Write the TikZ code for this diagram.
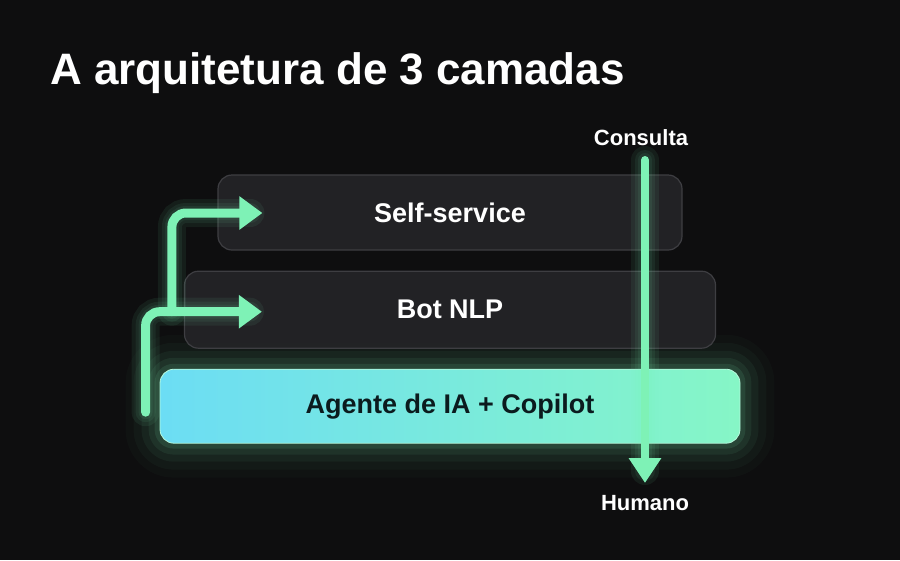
\documentclass[tikz,border=0pt]{standalone}
\usepackage{fontspec}
\setmainfont{Liberation Sans}
\usetikzlibrary{positioning}
\usetikzlibrary{calc}
\usetikzlibrary{arrows.meta}
\usetikzlibrary{backgrounds}

\definecolor{fundo}{HTML}{0E0E0F}
\definecolor{menta}{HTML}{7EF2B6}
\definecolor{caixa}{HTML}{242427}
\definecolor{borda}{HTML}{3E3E42}
\definecolor{ciano}{HTML}{6CDDF4}
\definecolor{verdeclaro}{HTML}{86F6C6}
\definecolor{tinta}{HTML}{0B1B1E}

\begin{document}
\begin{tikzpicture}[x=1pt,y=-1pt,>={Triangle[length=23pt,width=32pt]},
		node distance=20pt]
		\tikzstyle{camada}=[draw=borda,fill=caixa,fill opacity=0.92,text opacity=1,line width=1.2pt,rounded corners=14pt,
		  text=white,font=\fontsize{27}{30}\selectfont\bfseries,inner sep=0pt]
		\tikzstyle{fluxo}=[menta,line width=9pt,rounded corners=14pt,line cap=round]
		\tikzstyle{brilho}=[menta,opacity=0.07,rounded corners=14pt,line cap=round]
		\tikzstyle{rotulo}=[text=white,font=\fontsize{22}{24}\selectfont\bfseries,inner sep=0pt]
		
		\useasboundingbox (0,0) rectangle (900,560);
		
		\node[anchor=base west,text=white,inner sep=0pt,font=\fontsize{44}{50}\selectfont\bfseries] (titulo) at (50,84) {A arquitetura de 3 camadas};
		
		\node[camada,minimum width=464pt,minimum height=75pt] (self) at (450,212.5) {Self-service};
		\node[camada,minimum width=531pt,minimum height=77pt] (bot)  [below=of self]  {Bot NLP};
		\node[camada,minimum width=580pt,minimum height=74pt,left color=ciano,right color=verdeclaro,
		  draw=verdeclaro!60!white,line width=0.8pt,fill opacity=1,text=tinta] (agente) [below=of bot] {Agente de IA + Copilot};
		
		% brilho da camada de agente
		\begin{scope}[on background layer]
		\fill[fundo] (0,0) rectangle (900,560);
		\foreach \g/\o in {34/0.025,26/0.035,18/0.05,11/0.07,5/0.1}
		  \fill[menta,opacity=\o,rounded corners=\g pt+14pt] ($(agente.north west)+(-\g,-\g)$) rectangle ($(agente.south east)+(\g,\g)$);
		\end{scope}
		
		\coordinate (ini)  at ($(agente.west)+(-14,6)$);
		\coordinate (p1)   at ($(bot.west)+(78,2)$);
		\coordinate (p2)   at ($(self.west)+(45,0.5)$);
		\coordinate (ramo) at ($(p1)+(-90,0)$);
		\coordinate (topo) at (645,160);
		\coordinate (base) at (645,483);
		
		\foreach \w in {28,20,14}
		{
		  \draw[brilho,line width=\w pt] (ini) |- ($(p1)+(-12,0)$);
		  \draw[brilho,line width=\w pt] (ramo) |- ($(p2)+(-12,0)$);
		  \draw[brilho,line width=\w pt] (topo) -- ($(base)+(0,-12)$);
		}
		
		\draw[fluxo,->] (ini) |- (p1);
		\draw[fluxo,->] (ramo) |- (p2);
		\draw[fluxo,line width=8pt,-{Triangle[length=25pt,width=31pt]}] (topo) -- (base);
		
		\node[rotulo] (consulta) at (641,138) {Consulta};
		\node[rotulo] (humano)   at (645,503) {Humano};
\end{tikzpicture}
\end{document}
